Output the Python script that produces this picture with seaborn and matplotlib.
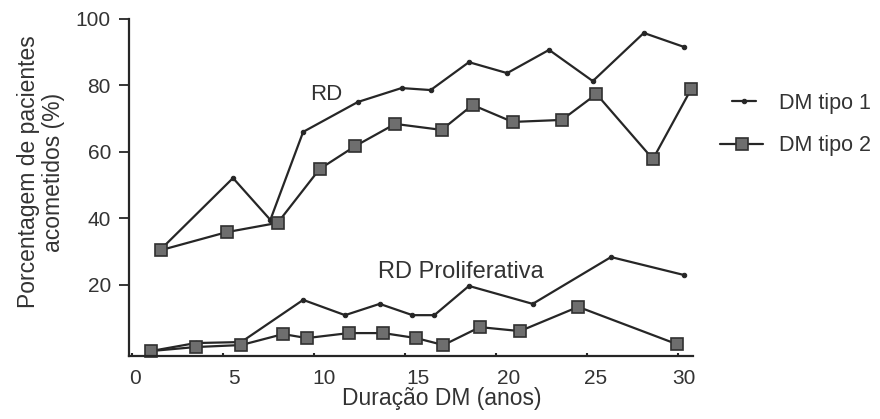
import matplotlib
matplotlib.use("Agg")
import matplotlib.pyplot as plt
import matplotlib.transforms as mtransforms
from matplotlib.legend_handler import HandlerLine2D
import seaborn as sns

# ---- data ----
x_t1_rd = [1.6, 5.55, 7.6, 9.4, 12.4, 14.8, 16.4, 18.5, 20.6, 22.9, 25.3, 28.1, 30.3]
y_t1_rd = [30.7, 52.1, 39.5, 66.0, 75.0, 79.2, 78.6, 87.0, 83.7, 90.7, 81.3, 95.8, 91.6]

x_t2_rd = [1.6, 5.2, 8.0, 10.3, 12.25, 14.45, 17.0, 18.7, 20.9, 23.6, 25.5, 28.6, 30.7]
y_t2_rd = [30.4, 35.8, 38.6, 54.8, 61.7, 68.4, 66.6, 74.1, 69.0, 69.6, 77.4, 57.8, 78.9]

x_t1_pro = [1.05, 3.5, 6.0, 9.4, 11.7, 13.6, 15.4, 16.6, 18.5, 22.0, 26.3, 30.3]
y_t1_pro = [0.0, 2.4, 2.7, 15.4, 10.8, 14.2, 10.8, 10.8, 19.6, 14.2, 28.3, 22.9]

x_t2_pro = [1.05, 3.5, 6.0, 8.3, 9.6, 11.9, 13.8, 15.6, 17.1, 19.1, 21.3, 24.5, 29.9]
y_t2_pro = [0.0, 1.2, 1.8, 5.1, 3.9, 5.4, 5.4, 3.9, 1.8, 7.2, 6.0, 13.3, 2.1]

x_ticks = [0, 5, 10, 15, 20, 25, 30]
y_ticks = [20, 40, 60, 80, 100]
series_labels = ["DM tipo 1", "DM tipo 2"]

# ---- style ----
sns.set_style("ticks")
plt.rcParams["font.family"] = ["Liberation Sans", "DejaVu Sans"]

TXT = "#333333"
LINE = "#262626"
SQ_FACE = "#6e6e6e"
SQ_EDGE = "#303030"

fig = plt.figure(figsize=(8.8, 4.19), dpi=100)
ax = fig.add_axes([129 / 880, 1 - 356 / 419, (693 - 129) / 880, (356 - 19) / 419])

t1_kw = dict(color=LINE, linewidth=1.6, marker="o", markersize=3.2,
             markerfacecolor=LINE, markeredgecolor=LINE, clip_on=False,
             estimator=None, sort=False, ax=ax)
t2_kw = dict(color=LINE, linewidth=1.6, marker="s", markersize=9,
             markerfacecolor=SQ_FACE, markeredgecolor=SQ_EDGE, markeredgewidth=1.2,
             clip_on=False, estimator=None, sort=False, ax=ax)

sns.lineplot(x=x_t1_rd, y=y_t1_rd, label=series_labels[0], **t1_kw)
sns.lineplot(x=x_t2_rd, y=y_t2_rd, label=series_labels[1], **t2_kw)
sns.lineplot(x=x_t1_pro, y=y_t1_pro, **t1_kw)
sns.lineplot(x=x_t2_pro, y=y_t2_pro, **t2_kw)

ax.set_xlim(-0.16, 30.8)
ax.set_ylim(-1.5, 100)
ax.set_xticks(x_ticks)
ax.set_xticklabels([str(v) for v in x_ticks])
ax.set_yticks(y_ticks)
ax.set_yticklabels([str(v) for v in y_ticks])

for s in ["top", "right"]:
    ax.spines[s].set_visible(False)
for s in ["left", "bottom"]:
    ax.spines[s].set_linewidth(1.6)
    ax.spines[s].set_color(LINE)

ax.tick_params(axis="y", direction="out", length=7, width=1.3, colors=LINE,
               labelsize=15, labelcolor=TXT, pad=6)
ax.tick_params(axis="x", direction="in", length=2, width=1.5, colors=LINE,
               labelsize=15, labelcolor=TXT, pad=9)
ax.set_xlabel("")
ax.set_ylabel("")

# x tick labels sit slightly right of their tick marks in the reference
label_shift_px = [3, 11, 10, 13, 12, 8, 6]
for lab, dx in zip(ax.get_xticklabels(), label_shift_px):
    lab.set_transform(lab.get_transform() +
                      mtransforms.ScaledTranslation(dx / 100, 0, fig.dpi_scale_trans))

# annotations
ax.text(9.8, 77.4, "RD", fontsize=16, color=TXT, ha="left", va="center")
ax.text(13.5, 23.8, "RD Proliferativa", fontsize=17, color=TXT, ha="left", va="center")

# axis titles
fig.text(41 / 880, 1 - 172 / 419, "Porcentagem de pacientes\nacometidos (%)",
         rotation=90, ha="center", va="center", multialignment="center",
         fontsize=16.5, color=TXT, linespacing=1.15)
fig.text(442 / 880, 1 - 405 / 419, "Duração DM (anos)", ha="center", va="baseline",
         fontsize=16.5, color=TXT)


class PartialLineHandler(HandlerLine2D):
    """Legend handle drawn over only part of the handle box."""

    def __init__(self, start_frac, len_frac, **kw):
        super().__init__(**kw)
        self.start_frac = start_frac
        self.len_frac = len_frac

    def create_artists(self, legend, orig_handle, xdescent, ydescent,
                       width, height, fontsize, trans):
        return super().create_artists(legend, orig_handle,
                                      xdescent - self.start_frac * width, ydescent,
                                      self.len_frac * width, height, fontsize, trans)


# legend
ax.get_legend().remove()
handles, labels = ax.get_legend_handles_labels()
fig.legend(handles[:2], labels[:2], loc="upper left",
           bbox_to_anchor=(720 / 880, 1 - 93 / 419), frameon=False,
           fontsize=15.5, handlelength=2.0, handletextpad=0.75,
           labelspacing=0.98, borderpad=0, borderaxespad=0, labelcolor=TXT,
           handler_map={handles[0]: PartialLineHandler(12 / 44, 25 / 44)})

fig.savefig("out.png", dpi=100)
